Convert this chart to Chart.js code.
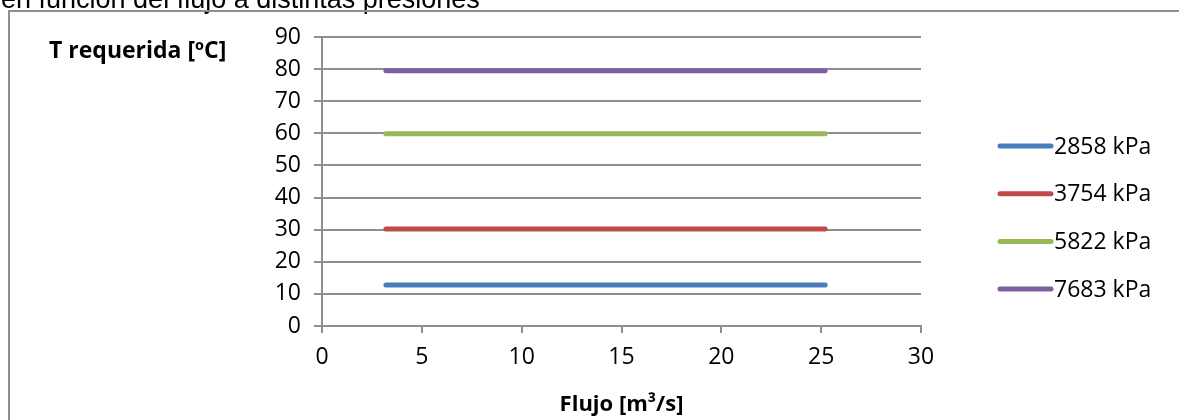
<!DOCTYPE html>
<html>
<head>
<meta charset="utf-8">
<title>T requerida vs flujo</title>
<script src="https://cdn.jsdelivr.net/npm/chart.js@4.4.1/dist/chart.umd.min.js"></script>
<style>
  html, body { margin: 0; padding: 0; background: #fff; }
  #wrap { position: relative; width: 1179px; height: 420px; }
</style>
</head>
<body>
<div id="wrap"><canvas id="chart" width="1179" height="420"></canvas></div>
<script>
// Flujo values where each curve starts and ends
const flujo = [3.2, 25.2];

// Legend labels, one per pressure
const presiones = ["2858 kPa", "3754 kPa", "5822 kPa", "7683 kPa"];

// Required temperature for each pressure
const t2858 = [12.8, 12.8];
const t3754 = [30.2, 30.2];
const t5822 = [59.9, 59.9];
const t7683 = [79.5, 79.5];

const colores = ["#4a7ebb", "#be4b48", "#98b954", "#7d60a0"];
const series = [t2858, t3754, t5822, t7683];

const FONT = "'Open Sans', sans-serif";
const GRID = "#8e8e8e";

// Outer frame and the clipped title line above it
const framePlugin = {
    id: "frame",
    beforeDraw(chart) {
        const ctx = chart.ctx;
        ctx.save();
        ctx.fillStyle = "#fff";
        ctx.fillRect(0, 0, chart.width, chart.height);
        ctx.fillStyle = "#000";
        ctx.font = "27px 'Liberation Sans', Arial, sans-serif";
        ctx.textBaseline = "alphabetic";
        ctx.fillText("en función del flujo a distintas presiones", 1, 8);
        ctx.strokeStyle = GRID;
        ctx.lineWidth = 2;
        ctx.beginPath();
        ctx.moveTo(9, chart.height + 5);
        ctx.lineTo(9, 11);
        ctx.lineTo(chart.width + 5, 11);
        ctx.stroke();
        ctx.restore();
    },
    afterDraw(chart) {
        const ctx = chart.ctx;
        const area = chart.chartArea;
        ctx.save();
        // horizontal y-axis title, top left
        ctx.fillStyle = "#000";
        ctx.font = "bold 23px " + FONT;
        ctx.textBaseline = "alphabetic";
        ctx.fillText("T requerida [ºC]", 49, area.top + 21);

        // legend: thick line sample followed directly by the label
        ctx.font = "23px " + FONT;
        ctx.textBaseline = "middle";
        const x0 = area.right + 79;
        const len = 51;
        chart.data.datasets.forEach((ds, i) => {
            const y = area.top + 109 + i * 47.7;
            ctx.strokeStyle = ds.borderColor;
            ctx.lineWidth = ds.borderWidth;
            ctx.lineCap = "round";
            ctx.beginPath();
            ctx.moveTo(x0, y);
            ctx.lineTo(x0 + len, y);
            ctx.stroke();
            ctx.fillStyle = "#000";
            ctx.fillText(ds.label, x0 + len + 3, y + 1);
        });
        ctx.restore();
    }
};

new Chart(document.getElementById("chart"), {
    type: "line",
    data: {
        datasets: series.map((vals, i) => ({
            label: presiones[i],
            data: flujo.map((x, j) => ({ x: x, y: vals[j] })),
            borderColor: colores[i],
            backgroundColor: colores[i],
            borderWidth: 5,
            borderCapStyle: "round",
            pointRadius: 0,
            fill: false,
        })),
    },
    options: {
        responsive: false,
        animation: false,
        layout: { padding: { top: 37, right: 258, left: 0, bottom: 0 } },
        plugins: {
            legend: { display: false },
            tooltip: { enabled: false },
        },
        scales: {
            x: {
                type: "linear",
                min: 0,
                max: 30,
                afterFit: s => { s.height = 94; },
                ticks: { stepSize: 5, color: "#000", font: { family: FONT, size: 23 }, padding: 11, maxRotation: 0 },
                grid: { drawOnChartArea: false, drawTicks: true, tickLength: 7, color: GRID, lineWidth: 2 },
                border: { display: true, color: GRID, width: 2 },
                title: {
                    display: true,
                    text: "Flujo [m³/s]",
                    color: "#000",
                    font: { family: FONT, size: 22, weight: "bold" },
                    padding: { top: 0, bottom: 2 },
                },
            },
            y: {
                min: 0,
                max: 90,
                afterFit: s => { s.width = 322; },
                ticks: { stepSize: 10, color: "#000", font: { family: FONT, size: 23 }, padding: 13 },
                grid: { color: GRID, lineWidth: 2, tickLength: 8 },
                border: { display: true, color: GRID, width: 2 },
            },
        },
    },
    plugins: [framePlugin],
});
</script>
</body>
</html>
